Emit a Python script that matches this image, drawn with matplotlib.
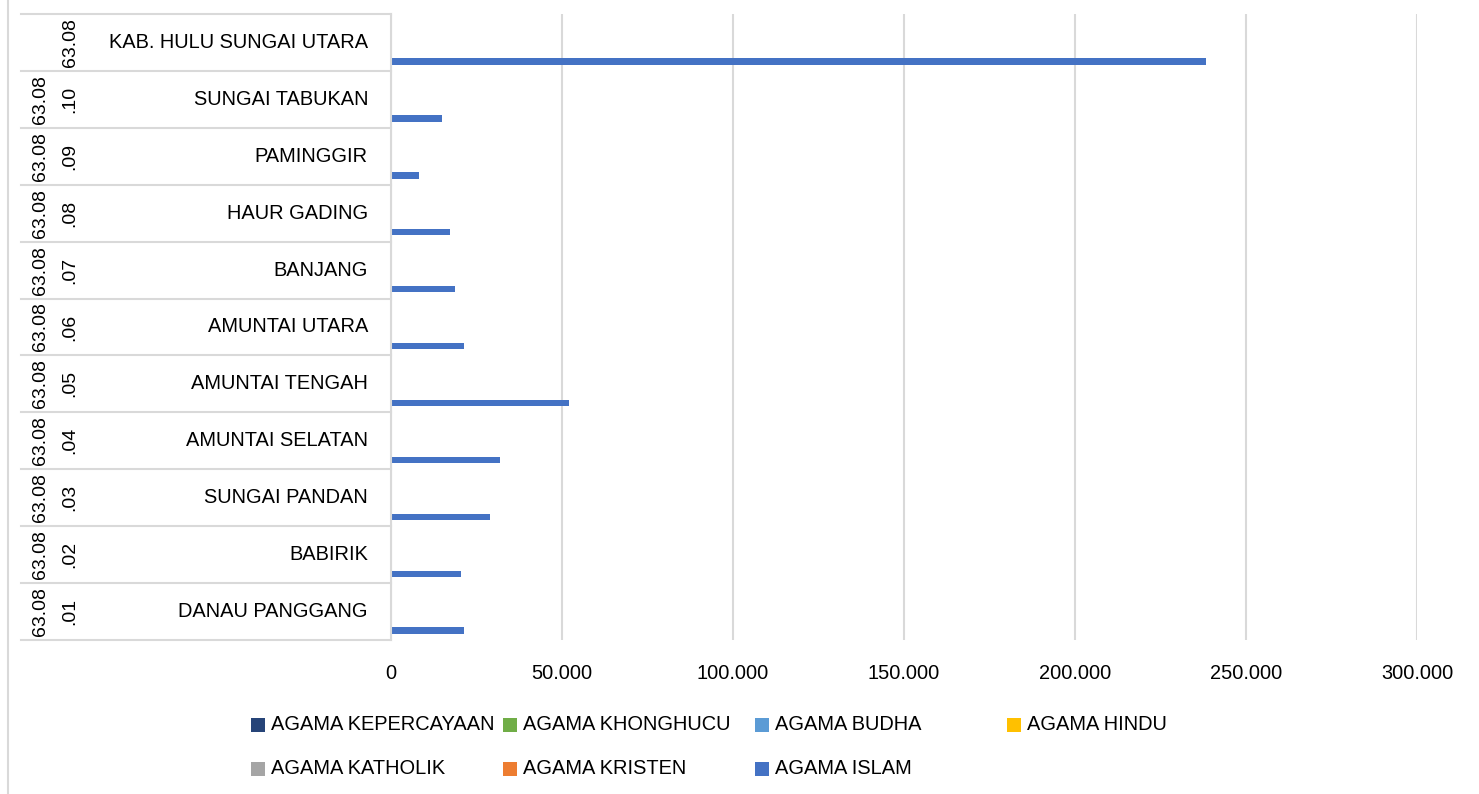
import numpy as np
import matplotlib
matplotlib.use("Agg")
import matplotlib.pyplot as plt
from matplotlib.ticker import FuncFormatter
from matplotlib.transforms import blended_transform_factory
from matplotlib.patches import Rectangle

plt.rcParams["font.family"] = ["Liberation Sans", "DejaVu Sans"]

# categories, bottom to top
names = ["DANAU PANGGANG", "BABIRIK", "SUNGAI PANDAN", "AMUNTAI SELATAN",
         "AMUNTAI TENGAH", "AMUNTAI UTARA", "BANJANG", "HAUR GADING",
         "PAMINGGIR", "SUNGAI TABUKAN", "KAB. HULU SUNGAI UTARA"]
codes = [".01", ".02", ".03", ".04", ".05", ".06", ".07", ".08", ".09", ".10", ""]

# series values (minor religions are near zero)
islam = [21300, 20400, 28900, 31800, 52000, 21300, 18700, 17200, 8200, 14900, 238300]
kristen = [5, 3, 20, 40, 180, 30, 2, 4, 1, 10, 295]
katholik = [2, 1, 10, 15, 60, 10, 1, 2, 0, 4, 105]
hindu = [0, 0, 3, 4, 8, 2, 0, 1, 0, 1, 19]
budha = [1, 0, 8, 10, 50, 6, 0, 1, 0, 3, 79]
khonghucu = [0, 0, 0, 0, 2, 0, 0, 0, 0, 0, 2]
kepercayaan = [0, 0, 1, 1, 2, 1, 0, 0, 0, 0, 5]

series = [
    ("AGAMA ISLAM", islam, "#4472c4"),
    ("AGAMA KRISTEN", kristen, "#ed7d31"),
    ("AGAMA KATHOLIK", katholik, "#a5a5a5"),
    ("AGAMA HINDU", hindu, "#ffc000"),
    ("AGAMA BUDHA", budha, "#5b9bd5"),
    ("AGAMA KHONGHUCU", khonghucu, "#70ad47"),
    ("AGAMA KEPERCAYAAN", kepercayaan, "#264478"),
]

W, H = 1479, 794
fig = plt.figure(figsize=(W / 100, H / 100), dpi=100)
ax = fig.add_axes([391 / W, 1 - 640 / H, (1417 - 391) / W, (640 - 14) / H])

y = np.arange(len(names))
h = 0.112
gap = 1 - h * len(series)
for j, (label, vals, col) in enumerate(series):
    pos = y - 0.5 + gap / 2 + h * (j + 0.5)
    ax.barh(pos, vals, height=h, color=col, label=label, zorder=2)

ax.set_xlim(0, 300000)
ax.set_ylim(-0.5, len(names) - 0.5)
ax.set_xticks(np.arange(0, 300001, 50000))
ax.xaxis.set_major_formatter(FuncFormatter(lambda v, p: f"{int(v):,}".replace(",", ".")))
ax.tick_params(axis="x", length=0, pad=17, labelsize=14.4, colors="#000000")
ax.set_yticks([])
ax.grid(axis="x", color="#d9d9d9", lw=1.5, zorder=0)
for s in ["top", "right", "bottom"]:
    ax.spines[s].set_visible(False)
ax.spines["left"].set_color("#d9d9d9")
ax.spines["left"].set_linewidth(1.5)
ax.spines["left"].set_zorder(4)

# category label table on the left
tr = blended_transform_factory(fig.transFigure, ax.transData)
for k in range(len(names) + 1):
    ax.plot([21 / W, 391 / W], [k - 0.5, k - 0.5], transform=tr, color="#d9d9d9",
            lw=1.5, clip_on=False)
for i, nm in enumerate(names):
    ax.text(368 / W, i, nm, transform=tr, ha="right", va="center", fontsize=14.4)
    if codes[i]:
        ax.text(40 / W, i, "63.08", transform=tr, ha="center", va="center",
                rotation=90, fontsize=14)
        ax.text(70 / W, i, codes[i], transform=tr, ha="center", va="center",
                rotation=90, fontsize=14)
    else:
        ax.text(70 / W, i, "63.08", transform=tr, ha="center", va="center",
                rotation=90, fontsize=14)

# outer chart border on the left
fig.add_artist(plt.Line2D([8 / W, 8 / W], [0, 1], color="#d9d9d9", lw=1.5))

# legend, laid out like the reference (4 columns, row-major)
cmap = {lab: col for lab, _, col in series}
legend_rows = [["AGAMA KEPERCAYAAN", "AGAMA KHONGHUCU", "AGAMA BUDHA", "AGAMA HINDU"],
               ["AGAMA KATHOLIK", "AGAMA KRISTEN", "AGAMA ISLAM"]]
for r, row in enumerate(legend_rows):
    yc = 724.5 + r * 44.5
    for c, lab in enumerate(row):
        x0 = 251 + c * 252
        fig.add_artist(Rectangle((x0 / W, 1 - (yc + 7) / H), 14 / W, 14 / H,
                                 transform=fig.transFigure, color=cmap[lab], lw=0))
        fig.text((x0 + 20) / W, 1 - yc / H, lab, ha="left", va="center", fontsize=14.4)

fig.savefig("out.png", dpi=100, facecolor="white")
